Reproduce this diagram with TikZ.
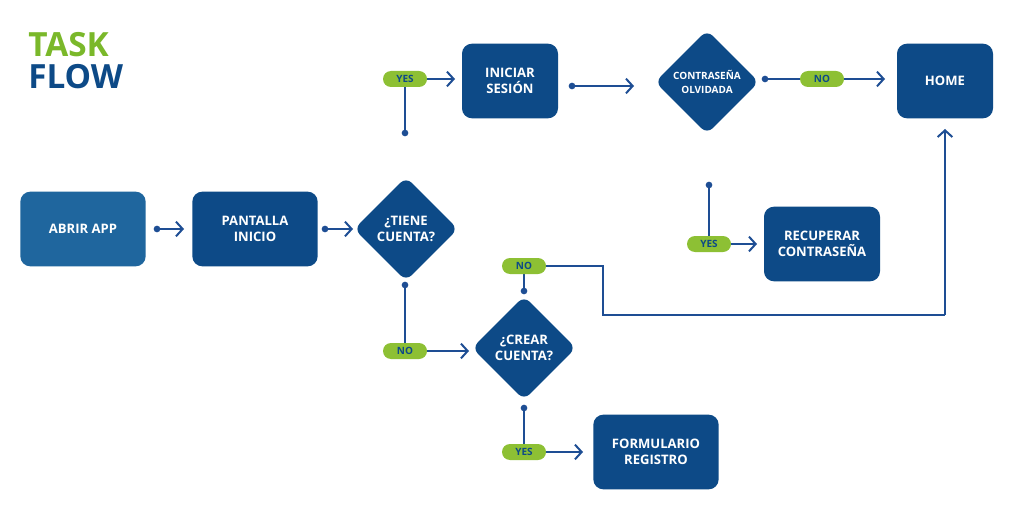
\documentclass[tikz,border=0pt]{standalone}
\usepackage{fontspec}
\setmainfont{Open Sans}
\usetikzlibrary{shapes.geometric,arrows.meta}
\definecolor{dblue}{RGB}{13,74,135}
\definecolor{lblue}{RGB}{31,102,158}
\definecolor{lineblue}{RGB}{30,78,148}
\definecolor{pillgreen}{RGB}{141,192,52}
\definecolor{tgreen}{RGB}{122,184,42}
\tikzset{
  box/.style={rectangle,rounded corners=7.5pt,fill=dblue,draw=none,minimum width=94pt,minimum height=56pt,text=white,font=\bfseries\fontsize{9.8}{12}\selectfont,align=center,inner sep=0pt},
  dia/.style={diamond,aspect=1,rounded corners=6pt,fill=dblue,draw=none,minimum width=78pt,minimum height=78pt,inner sep=0pt},
  dtxt/.style={text=white,font=\bfseries\fontsize{9.8}{12}\selectfont,align=center,inner sep=0pt},
  dtxts/.style={text=white,font=\bfseries\fontsize{7.5}{10.5}\selectfont,align=center,inner sep=0pt},
  pill/.style={rectangle,rounded corners=6pt,fill=pillgreen,minimum width=33pt,minimum height=12pt,inner sep=0pt,text=dblue,font=\bfseries\fontsize{7.5}{8}\selectfont},
  conn/.style={draw=lineblue,line width=1.5pt},
  arr/.style={conn,-{Straight Barb[length=5pt,width=11pt,line width=1.5pt]}},
  dotc/.style={circle,fill=lineblue,minimum size=5pt,inner sep=0pt},
}
\begin{document}
\begin{tikzpicture}[x=0.75pt,y=-0.75pt]
\useasboundingbox (0,0) rectangle (1024,506);
\fill[white] (0,0) rectangle (1024,506);
% title
\node[anchor=west,inner sep=0pt,text=tgreen,font=\bfseries\fontsize{25}{25}\selectfont] (task) at (28,45) {TASK};
\node[anchor=west,inner sep=0pt,text=dblue,font=\bfseries\fontsize{25}{25}\selectfont] (flow) at (28,77) {FLOW};
% boxes
\node[box,fill=lblue] (abrir) at (83,229) {ABRIR APP};
\node[box] (pantalla) at (255,229) {PANTALLA\\INICIO};
\node[box,minimum width=72pt] (iniciar) at (510,81) {INICIAR\\SESIÓN};
\node[box,minimum width=72pt] (home) at (945,81) {HOME};
\node[box,minimum width=87pt] (recuperar) at (822,244) {RECUPERAR\\CONTRASEÑA};
\node[box] (formulario) at (656,452) {FORMULARIO\\REGISTRO};
% diamonds
\node[dia] (tiene) at (406,229) {};
\node[dtxt] (tienet) at (tiene.center) {¿TIENE\\CUENTA?};
\node[dia] (contra) at (707,82) {};
\node[dtxts] (contrat) at (contra.center) {CONTRASEÑA\\OLVIDADA};
\node[dia] (crear) at (524,348) {};
\node[dtxt] (creart) at (crear.center) {¿CREAR\\CUENTA?};
% dots
\node[dotc] (d1) at (157,229) {};
\node[dotc] (d2) at (325,229) {};
\node[dotc] (d3) at (405,133) {};
\node[dotc] (d4) at (572,86) {};
\node[dotc] (d5) at (765,79) {};
\node[dotc] (d6) at (709,185) {};
\node[dotc] (d7) at (405,285) {};
\node[dotc] (d8) at (524,291) {};
\node[dotc] (d9) at (524,408) {};
% arrow targets
\coordinate (a1) at (184,229);
\coordinate (a2) at (353,229);
\coordinate (a3) at (455,79);
\coordinate (a4) at (634,86);
\coordinate (a5) at (885,79);
\coordinate (a6) at (757,244);
\coordinate (a7) at (469,351);
\coordinate (a8) at (583,452);
\coordinate (a9) at (945,129);
\coordinate (b1) at (603,264);
\coordinate (b2) at (603,315);
\coordinate (b3) at (945,315);
% pills (positions)
\coordinate (p1) at (405,79);
\coordinate (p2) at (822,79);
\coordinate (p3) at (709,244);
\coordinate (p4) at (405,351);
\coordinate (p5) at (524,266);
\coordinate (p6) at (524,452);
% connectors
\draw[arr] (d1.center) -- (a1);
\draw[arr] (d2.center) -- (a2);
\draw[conn] (d3.center) -- (p1);
\draw[arr] (p1) -- (a3);
\draw[arr] (d4.center) -- (a4);
\draw[conn] (d5.center) -- (p2);
\draw[arr] (p2) -- (a5);
\draw[conn] (d6.center) -- (p3);
\draw[arr] (p3) -- (a6);
\draw[conn] (d7.center) -- (p4);
\draw[arr] (p4) -- (a7);
\draw[conn] (d8.center) -- (p5);
\draw[conn] (p5) -- (p5 -| b1) -- (b2) -- (b3);
\draw[arr] (b3) -- (a9);
\draw[conn] (d9.center) -- (p6);
\draw[arr] (p6) -- (a8);
% pill nodes
\node[pill] (yes1) at (p1) {YES};
\node[pill] (no1) at (p2) {NO};
\node[pill] (yes2) at (p3) {YES};
\node[pill] (no2) at (p4) {NO};
\node[pill] (no3) at (p5) {NO};
\node[pill] (yes3) at (p6) {YES};
\end{tikzpicture}
\end{document}
